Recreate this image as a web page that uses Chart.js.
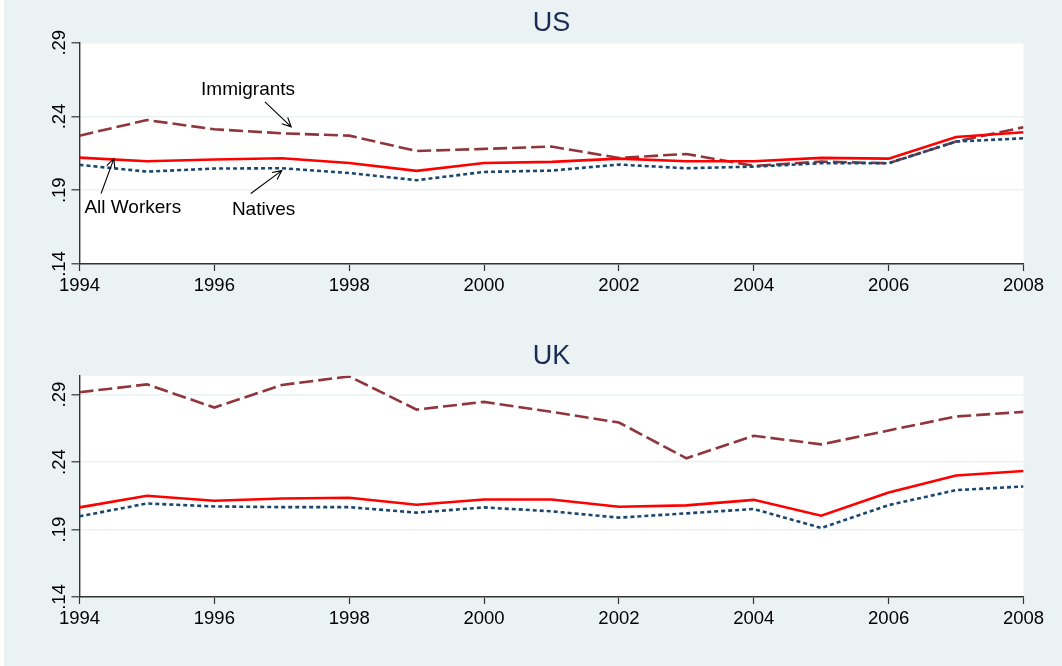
<!DOCTYPE html>
<html>
<head>
<meta charset="utf-8">
<title>US / UK</title>
<script src="https://cdn.jsdelivr.net/npm/chart.js@4.4.1/dist/chart.umd.min.js"></script>
<style>
    html, body { margin: 0; padding: 0; background: #ffffff; }
    #wrap { position: absolute; left: 4px; top: 0; width: 1058px; height: 666px; background: #eaf2f3; }
    #wrap canvas { position: absolute; left: 0; }
</style>
</head>
<body>
<div id="wrap">
    <canvas id="usChart" width="1058" height="333" style="top:0"></canvas>
    <canvas id="ukChart" width="1058" height="333" style="top:333px"></canvas>
</div>
<script>
// years and tick labels
const years = [1994, 1995, 1996, 1997, 1998, 1999, 2000, 2001, 2002, 2003, 2004, 2005, 2006, 2007, 2008];
const xTicks = [1994, 1996, 1998, 2000, 2002, 2004, 2006, 2008];
const yTicks = [0.14, 0.19, 0.24, 0.29];

// US series
const usAll = [0.2121, 0.2096, 0.2108, 0.2117, 0.2085, 0.2031, 0.2085, 0.2092, 0.2114, 0.2096, 0.2096, 0.2119, 0.2114, 0.2261, 0.2293];
const usImmigrants = [0.2270, 0.2376, 0.2313, 0.2286, 0.2270, 0.2166, 0.2180, 0.2196, 0.2119, 0.2146, 0.2065, 0.2094, 0.2083, 0.2230, 0.2327];
const usNatives = [0.2072, 0.2026, 0.2047, 0.2049, 0.2017, 0.1968, 0.2024, 0.2033, 0.2074, 0.2049, 0.2060, 0.2083, 0.2083, 0.2230, 0.2252];

// UK series
const ukAll = [0.2064, 0.2150, 0.2113, 0.2130, 0.2135, 0.2084, 0.2123, 0.2123, 0.2069, 0.2079, 0.2120, 0.2002, 0.2175, 0.2300, 0.2334];
const ukImmigrants = [0.2917, 0.2976, 0.2804, 0.2971, 0.3035, 0.2789, 0.2846, 0.2772, 0.2693, 0.2428, 0.2595, 0.2531, 0.2634, 0.2738, 0.2772];
const ukNatives = [0.1998, 0.2093, 0.2071, 0.2066, 0.2066, 0.2025, 0.2064, 0.2035, 0.1988, 0.2020, 0.2052, 0.1912, 0.2081, 0.2192, 0.2219];

// text labels with arrows (US panel only), in data units
const usNotes = [
    { text: 'Immigrants', at: [1996.5, 0.2547], from: [1996.75, 0.2499], to: [1997.14, 0.2330] },
    { text: 'All Workers', at: [1994.79, 0.1747], from: [1994.32, 0.1878], to: [1994.51, 0.2114] },
    { text: 'Natives', at: [1996.73, 0.1731], from: [1996.54, 0.1878], to: [1997.0, 0.2033] }
];

const axisColor = '#333333';
const fontFamily = '"Liberation Sans", Arial, sans-serif';

function toPoints(values) {
    return values.map((v, i) => ({ x: years[i], y: v }));
}

// white plot region, rotated y labels, arrows
const stataDecor = {
    id: 'stataDecor',
    beforeDraw(chart) {
        const a = chart.chartArea;
        const c = chart.ctx;
        c.save();
        c.fillStyle = '#ffffff';
        c.fillRect(a.left, a.top, a.right - a.left, a.bottom - a.top);
        c.restore();
    },
    afterDraw(chart, args, opts) {
        const c = chart.ctx;
        const xs = chart.scales.x;
        const ys = chart.scales.y;
        c.save();
        c.fillStyle = '#000000';
        c.font = '18.5px ' + fontFamily;
        c.textAlign = 'center';
        c.textBaseline = 'alphabetic';
        yTicks.forEach(v => {
            const py = ys.getPixelForValue(v);
            c.save();
            c.translate(chart.chartArea.left - 15, py);
            c.rotate(-Math.PI / 2);
            c.fillText(String(v.toFixed(2)).replace(/^0/, ''), 0, 0);
            c.restore();
        });

        (opts.notes || []).forEach(n => {
            c.font = '19px ' + fontFamily;
            c.fillText(n.text, xs.getPixelForValue(n.at[0]), ys.getPixelForValue(n.at[1]));
            const x1 = xs.getPixelForValue(n.from[0]), y1 = ys.getPixelForValue(n.from[1]);
            const x2 = xs.getPixelForValue(n.to[0]), y2 = ys.getPixelForValue(n.to[1]);
            const ang = Math.atan2(y2 - y1, x2 - x1);
            c.strokeStyle = '#000000';
            c.lineWidth = 1.1;
            c.beginPath();
            c.moveTo(x1, y1);
            c.lineTo(x2, y2);
            c.moveTo(x2 - 10 * Math.cos(ang - 0.45), y2 - 10 * Math.sin(ang - 0.45));
            c.lineTo(x2, y2);
            c.lineTo(x2 - 10 * Math.cos(ang + 0.45), y2 - 10 * Math.sin(ang + 0.45));
            c.stroke();
        });
        c.restore();
    }
};

function makeChart(id, title, allWorkers, immigrants, natives, yMax, notes) {
    return new Chart(document.getElementById(id).getContext('2d'), {
        type: 'line',
        data: {
            datasets: [{
                label: 'All Workers',
                data: toPoints(allWorkers),
                borderColor: '#ff0000',
                borderWidth: 2.6
            }, {
                label: 'Natives',
                data: toPoints(natives),
                borderColor: '#1a476f',
                borderWidth: 2.6,
                borderDash: [4, 3]
            }, {
                label: 'Immigrants',
                data: toPoints(immigrants),
                borderColor: '#90353b',
                borderWidth: 2.6,
                borderDash: [14, 5]
            }]
        },
        options: {
            responsive: false,
            animation: false,
            events: [],
            elements: {
                point: { radius: 0 },
                line: { tension: 0, fill: false, borderCapStyle: 'butt' }
            },
            layout: {
                padding: { left: 0, right: 38.5, top: 0, bottom: 29 }
            },
            scales: {
                x: {
                    type: 'linear',
                    min: 1994,
                    max: 2008,
                    afterBuildTicks: s => { s.ticks = xTicks.map(v => ({ value: v })); },
                    afterFit: s => { s.height = 40; },
                    ticks: {
                        color: '#000000',
                        font: { size: 18.5, family: fontFamily },
                        padding: 4,
                        maxRotation: 0,
                        autoSkip: false,
                        callback: v => String(v)
                    },
                    grid: {
                        drawOnChartArea: false,
                        drawTicks: true,
                        tickLength: 7,
                        tickColor: axisColor,
                        tickWidth: 1.2
                    },
                    border: { color: axisColor, width: 1.4 }
                },
                y: {
                    min: 0.14,
                    max: yMax,
                    afterBuildTicks: s => { s.ticks = yTicks.map(v => ({ value: v })); },
                    afterFit: s => { s.width = 75.5; },
                    ticks: { display: false },
                    grid: {
                        color: '#eaf2f3',
                        lineWidth: 1.6,
                        drawTicks: true,
                        tickLength: 8,
                        tickColor: axisColor,
                        tickWidth: 1.2
                    },
                    border: { color: axisColor, width: 1.4 }
                }
            },
            plugins: {
                legend: { display: false },
                tooltip: { enabled: false },
                title: {
                    display: true,
                    text: title,
                    fullSize: false,
                    color: '#1a2b56',
                    font: { size: 27, family: fontFamily, weight: 'normal' },
                    padding: { top: 7.3, bottom: 3 }
                },
                stataDecor: { notes: notes }
            }
        },
        plugins: [stataDecor]
    });
}

makeChart('usChart', 'US', usAll, usImmigrants, usNatives, 0.29, usNotes);
makeChart('ukChart', 'UK', ukAll, ukImmigrants, ukNatives, 0.304, []);
</script>
</body>
</html>
